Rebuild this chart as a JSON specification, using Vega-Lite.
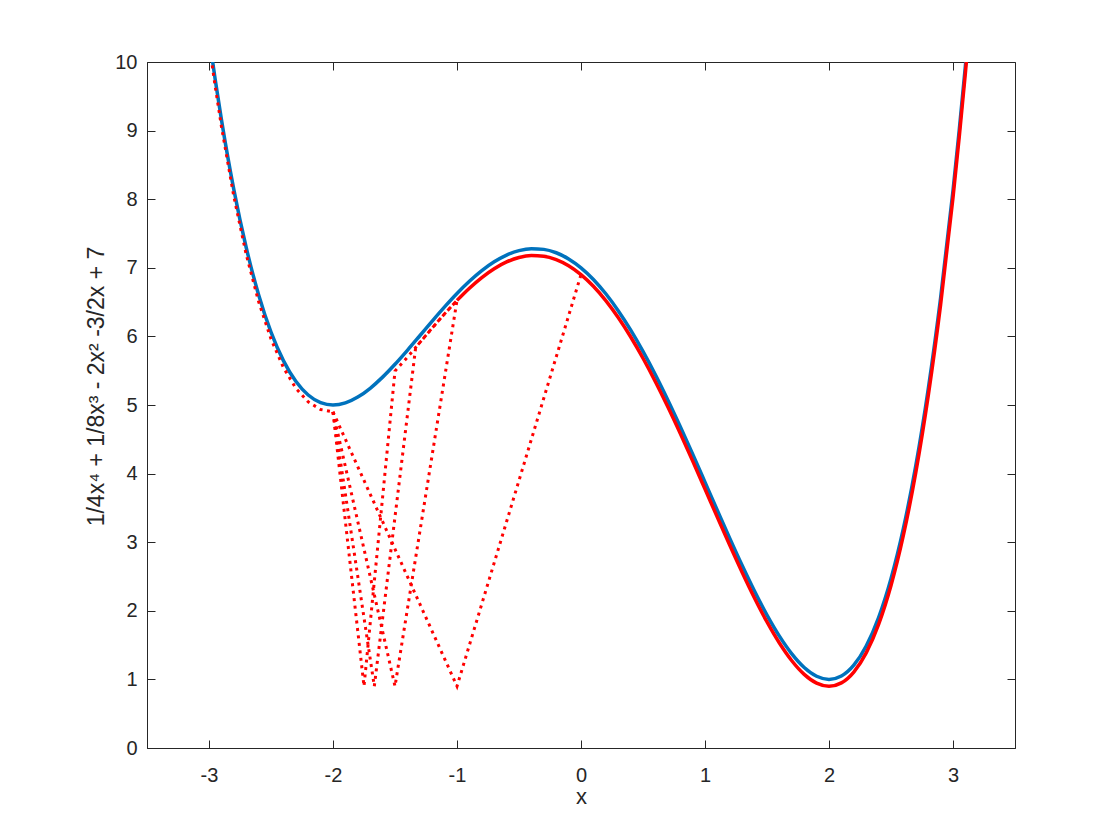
{
  "$schema": "https://vega.github.io/schema/vega-lite/v6.json",
  "width": 868,
  "height": 686,
  "autosize": {"type": "none"},
  "padding": {"left": 147, "top": 62, "right": 105, "bottom": 92},
  "background": "white",
  "config": {
    "view": {"stroke": "#262626", "strokeWidth": 1},
    "font": "Liberation Sans",
    "axis": {
      "grid": false,
      "domainColor": "#262626",
      "tickColor": "#262626",
      "labelColor": "#262626",
      "titleColor": "#262626",
      "labelFont": "Liberation Sans",
      "titleFont": "Liberation Sans",
      "labelFontSize": 20,
      "titleFontSize": 22,
      "titleFontWeight": "normal",
      "tickSize": -8,
      "tickWidth": 1
    }
  },
  "datasets": {
    "blue": [
      {"x": -3.0, "y": 10.375}, {"x": -2.95, "y": 9.744}, {"x": -2.9, "y": 9.1634}, {"x": -2.8, "y": 8.1424},
      {"x": -2.7, "y": 7.2956}, {"x": -2.6, "y": 6.6074}, {"x": -2.5, "y": 6.0625}, {"x": -2.4, "y": 5.6464},
      {"x": -2.3, "y": 5.3451}, {"x": -2.2, "y": 5.1454}, {"x": -2.1, "y": 5.0344}, {"x": -2.0, "y": 5.0},
      {"x": -1.9, "y": 5.0306}, {"x": -1.8, "y": 5.1154}, {"x": -1.7, "y": 5.2439}, {"x": -1.6, "y": 5.4064},
      {"x": -1.5, "y": 5.5938}, {"x": -1.4, "y": 5.7974}, {"x": -1.3, "y": 6.0094}, {"x": -1.2, "y": 6.2224},
      {"x": -1.1, "y": 6.4296}, {"x": -1.0, "y": 6.625}, {"x": -0.9, "y": 6.8029}, {"x": -0.8, "y": 6.9584},
      {"x": -0.7, "y": 7.0871}, {"x": -0.6, "y": 7.1854}, {"x": -0.5, "y": 7.25}, {"x": -0.4, "y": 7.2784},
      {"x": -0.3, "y": 7.2687}, {"x": -0.2, "y": 7.2194}, {"x": -0.1, "y": 7.1299}, {"x": 0.0, "y": 7.0},
      {"x": 0.1, "y": 6.8302}, {"x": 0.2, "y": 6.6214}, {"x": 0.3, "y": 6.3754}, {"x": 0.4, "y": 6.0944},
      {"x": 0.5, "y": 5.7813}, {"x": 0.6, "y": 5.4394}, {"x": 0.7, "y": 5.0729}, {"x": 0.8, "y": 4.6864},
      {"x": 0.9, "y": 4.2852}, {"x": 1.0, "y": 3.875}, {"x": 1.1, "y": 3.4624}, {"x": 1.2, "y": 3.0544},
      {"x": 1.3, "y": 2.6587}, {"x": 1.4, "y": 2.2834}, {"x": 1.5, "y": 1.9375}, {"x": 1.6, "y": 1.6304},
      {"x": 1.7, "y": 1.3722}, {"x": 1.8, "y": 1.1734}, {"x": 1.9, "y": 1.0454}, {"x": 2.0, "y": 1.0},
      {"x": 2.1, "y": 1.0497}, {"x": 2.2, "y": 1.2074}, {"x": 2.3, "y": 1.4869}, {"x": 2.4, "y": 1.9024},
      {"x": 2.5, "y": 2.4688}, {"x": 2.6, "y": 3.2014}, {"x": 2.7, "y": 4.1164}, {"x": 2.8, "y": 5.2304},
      {"x": 2.9, "y": 6.5607}, {"x": 3.0, "y": 8.125}, {"x": 3.05, "y": 9.0007}, {"x": 3.1, "y": 9.9419},
      {"x": 3.2, "y": 12.0304}
    ],
    "redsolid": [
      {"x": -1.0, "y": 6.525}, {"x": -0.9, "y": 6.7029},
      {"x": -0.8, "y": 6.8584}, {"x": -0.7, "y": 6.9871}, {"x": -0.6, "y": 7.0854},
      {"x": -0.5, "y": 7.15}, {"x": -0.4, "y": 7.1784}, {"x": -0.3, "y": 7.1687},
      {"x": -0.2, "y": 7.1194}, {"x": -0.1, "y": 7.0299}, {"x": 0.0, "y": 6.9},
      {"x": 0.1, "y": 6.7302}, {"x": 0.2, "y": 6.5214}, {"x": 0.3, "y": 6.2754},
      {"x": 0.4, "y": 5.9944}, {"x": 0.5, "y": 5.6813}, {"x": 0.6, "y": 5.3394},
      {"x": 0.7, "y": 4.9729}, {"x": 0.8, "y": 4.5864}, {"x": 0.9, "y": 4.1852},
      {"x": 1.0, "y": 3.775}, {"x": 1.1, "y": 3.3624}, {"x": 1.2, "y": 2.9544},
      {"x": 1.3, "y": 2.5587}, {"x": 1.4, "y": 2.1834}, {"x": 1.5, "y": 1.8375},
      {"x": 1.6, "y": 1.5304}, {"x": 1.7, "y": 1.2722}, {"x": 1.8, "y": 1.0734},
      {"x": 1.9, "y": 0.9454}, {"x": 2.0, "y": 0.9}, {"x": 2.1, "y": 0.9497},
      {"x": 2.2, "y": 1.1074}, {"x": 2.3, "y": 1.3869}, {"x": 2.4, "y": 1.8024},
      {"x": 2.5, "y": 2.3688}, {"x": 2.6, "y": 3.1014}, {"x": 2.7, "y": 4.0164},
      {"x": 2.8, "y": 5.1304}, {"x": 2.9, "y": 6.4607}, {"x": 3.0, "y": 8.025},
      {"x": 3.05, "y": 8.9007}, {"x": 3.1, "y": 9.8419}, {"x": 3.2, "y": 11.9304}
    ],
    "red": [
      {"k": "h0", "x": -3.0, "y": 10.275}, {"k": "h0", "x": -2.95, "y": 9.644}, {"k": "h0", "x": -2.9, "y": 9.0634},
      {"k": "h0", "x": -2.8, "y": 8.0424}, {"k": "h0", "x": -2.7, "y": 7.1956}, {"k": "h0", "x": -2.6, "y": 6.5074},
      {"k": "h0", "x": -2.5, "y": 5.9625}, {"k": "h0", "x": -2.4, "y": 5.5464}, {"k": "h0", "x": -2.3, "y": 5.2451},
      {"k": "h0", "x": -2.2, "y": 5.0454}, {"k": "h0", "x": -2.1, "y": 4.9344}, {"k": "h0", "x": -2.0, "y": 4.9},

      {"k": "h1", "x": -2.0, "y": 4.9}, {"k": "h1", "x": -1.75, "y": 0.9}, {"k": "h1", "x": -1.5, "y": 5.4938},
      {"k": "h1", "x": -1.4, "y": 5.6974}, {"k": "h1", "x": -1.3, "y": 5.9094}, {"k": "h1", "x": -1.2, "y": 6.1224},
      {"k": "h1", "x": -1.1, "y": 6.3296}, {"k": "h1", "x": -1.0, "y": 6.525},

      {"k": "h2", "x": -2.0, "y": 4.9}, {"k": "h2", "x": -1.6667, "y": 0.9}, {"k": "h2", "x": -1.3333, "y": 5.8383},
      {"k": "h2", "x": -1.3, "y": 5.9094}, {"k": "h2", "x": -1.2, "y": 6.1224},
      {"k": "h2", "x": -1.1, "y": 6.3296}, {"k": "h2", "x": -1.0, "y": 6.525},

      {"k": "h3", "x": -2.0, "y": 4.9}, {"k": "h3", "x": -1.5, "y": 0.9}, {"k": "h3", "x": -1.0, "y": 6.525},

      {"k": "h4", "x": -2.0, "y": 4.9}, {"k": "h4", "x": -1.0, "y": 0.9}, {"k": "h4", "x": 0.0, "y": 6.9}
    ]
  },
  "layer": [
    {
      "data": {"name": "blue"},
      "mark": {"type": "line", "color": "#0072BD", "strokeWidth": 3.5, "clip": true, "interpolate": "monotone"},
      "encoding": {
        "x": {
          "field": "x", "type": "quantitative",
          "scale": {"domain": [-3.5, 3.5], "nice": false, "zero": false},
          "axis": {
            "orient": "bottom", "values": [-3, -2, -1, 0, 1, 2, 3],
            "labelExpr": "'' + datum.value", "title": "x",
            "labelPadding": 25, "titlePadding": 1
          }
        },
        "y": {
          "field": "y", "type": "quantitative",
          "scale": {"domain": [0, 10], "nice": false, "zero": false},
          "axis": {
            "orient": "left", "values": [0, 1, 2, 3, 4, 5, 6, 7, 8, 9, 10],
            "labelExpr": "'' + datum.value",
            "title": "1/4x⁴ + 1/8x³ - 2x² -3/2x + 7",
            "titleFontSize": 23,
            "titleY": 324,
            "labelPadding": 18, "titlePadding": 6
          }
        }
      }
    },
    {
      "data": {"name": "redsolid"},
      "mark": {"type": "line", "color": "#FF0000", "strokeWidth": 3.5, "clip": true, "interpolate": "monotone"},
      "encoding": {
        "x": {"field": "x", "type": "quantitative", "axis": null},
        "y": {"field": "y", "type": "quantitative", "axis": null}
      }
    },
    {
      "data": {"name": "red"},
      "mark": {"type": "line", "color": "#FF0000", "strokeWidth": 3, "strokeDash": [3, 4.5], "strokeCap": "butt", "clip": true},
      "encoding": {
        "detail": {"field": "k"},
        "x": {
          "field": "x", "type": "quantitative",
          "axis": {"orient": "top", "values": [-3, -2, -1, 0, 1, 2, 3], "labels": false, "title": null, "domain": false}
        },
        "y": {
          "field": "y", "type": "quantitative",
          "axis": {"orient": "right", "values": [0, 1, 2, 3, 4, 5, 6, 7, 8, 9, 10], "labels": false, "title": null, "domain": false}
        }
      }
    }
  ],
  "resolve": {"axis": {"x": "independent", "y": "independent"}}
}
